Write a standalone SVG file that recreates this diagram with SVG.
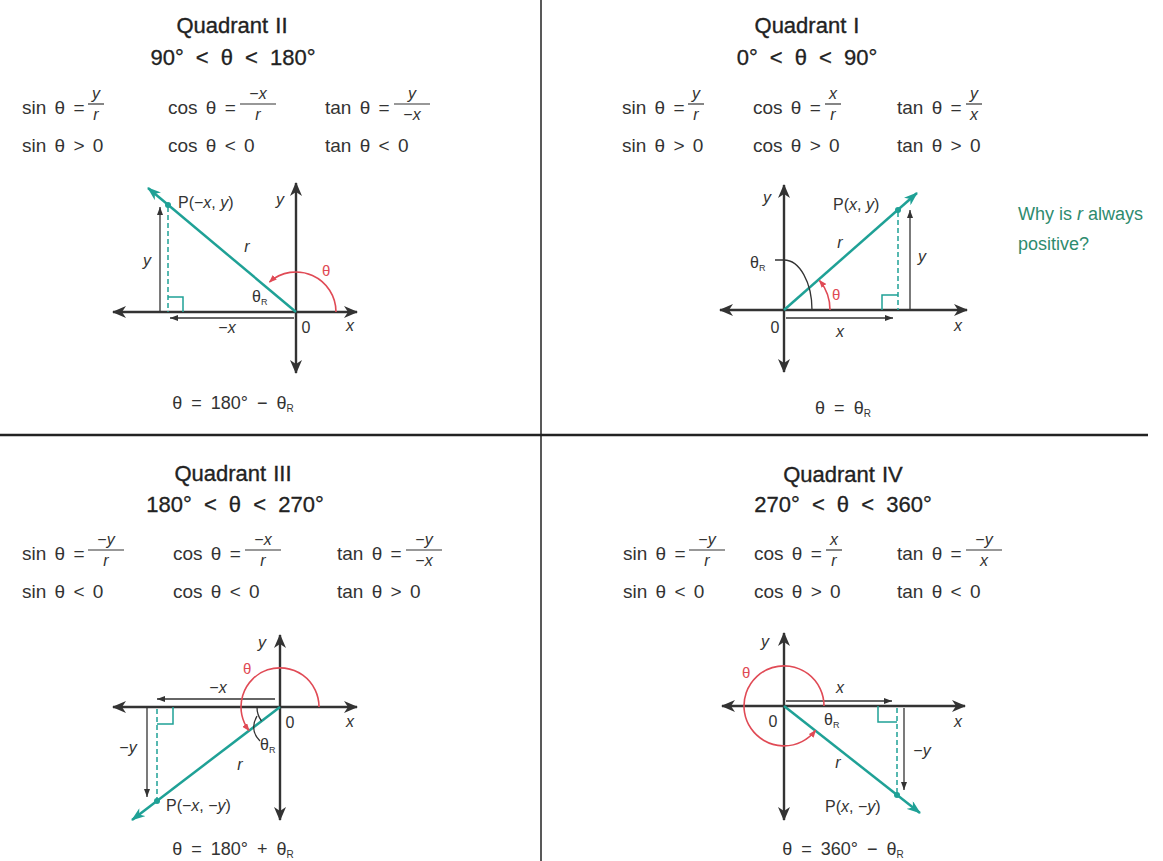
<svg xmlns="http://www.w3.org/2000/svg" width="1163" height="861" viewBox="0 0 1163 861">
<style>
text{font-family:"Liberation Sans",Arial,sans-serif;fill:#333}
.ti{font-size:22px;fill:#222;stroke:#222;stroke-width:0.35;word-spacing:1px}
.sub{font-size:22px;fill:#222;stroke:#222;stroke-width:0.3;word-spacing:6px}
.f{font-size:19px;word-spacing:3px}
.fr{font-size:16px;text-anchor:middle}
.v{font-style:italic}
.lb{font-size:16px}
.eq{font-size:18px;text-anchor:middle;word-spacing:4px}
.gr{font-size:18px;fill:#2e8b6e}
.rt{fill:#e04a55;font-size:15px}
.bar{stroke:#333;stroke-width:1.2}
.ax{stroke:#333;stroke-width:2.4;fill:none;marker-start:url(#ah);marker-end:url(#ah)}
.tl{stroke:#1fa196;stroke-width:2.5;marker-end:url(#ta)}
.dash{stroke:#1fa196;stroke-width:1.5;stroke-dasharray:5 3}
.sq{stroke:#1fa196;stroke-width:1.5;fill:none}
.thin{stroke:#333;stroke-width:1.3;marker-end:url(#sa)}
.red{stroke:#e04a55;stroke-width:1.6;fill:none;marker-end:url(#ra)}
.blk{stroke:#333;stroke-width:1.3;fill:none}
.dot{fill:#1fa196}
.grid{stroke:#222;fill:none}
</style>
<defs>
<marker id="ah" viewBox="0 0 14 12" refX="13" refY="6" markerWidth="14" markerHeight="12" markerUnits="userSpaceOnUse" orient="auto-start-reverse"><path d="M0,0 L14,6 L0,12 L4,6 z" fill="#333"/></marker>
<marker id="sa" viewBox="0 0 8 6" refX="8" refY="3" markerWidth="8" markerHeight="6" markerUnits="userSpaceOnUse" orient="auto"><path d="M0,0 L8,3 L0,6 z" fill="#333"/></marker>
<marker id="ta" viewBox="0 0 14 10" refX="13" refY="5" markerWidth="14" markerHeight="10" markerUnits="userSpaceOnUse" orient="auto"><path d="M0,0 L14,5 L0,10 L4,5 z" fill="#1fa196"/></marker>
<marker id="ra" viewBox="0 0 8 6" refX="7" refY="3" markerWidth="8" markerHeight="6" markerUnits="userSpaceOnUse" orient="auto"><path d="M0,0 L8,3 L0,6 z" fill="#e04a55"/></marker>
</defs>
<rect width="1163" height="861" fill="#fff"/>

<g id="grid-lines">
<line class="grid" x1="541" y1="0" x2="541" y2="861" stroke-width="1.5"/>
<line class="grid" x1="0" y1="435" x2="1148" y2="435" stroke-width="2.5"/>
</g>

<!-- Quadrant II -->
<g id="quadrant-2">
<text class="ti" x="232" y="33" text-anchor="middle">Quadrant II</text>
<text class="sub" x="233" y="65" text-anchor="middle">90° &lt; θ &lt; 180°</text>
<text class="f" x="22" y="114">sin θ =</text>
<line class="bar" x1="88" y1="104" x2="104" y2="104"/>
<text class="fr v" x="96" y="99">y</text><text class="fr v" x="96" y="120">r</text>
<text class="f" x="168" y="114">cos θ =</text>
<line class="bar" x1="240" y1="104" x2="276" y2="104"/>
<text class="fr" x="258" y="99">−<tspan class="v">x</tspan></text><text class="fr v" x="258" y="120">r</text>
<text class="f" x="325" y="114">tan θ =</text>
<line class="bar" x1="394" y1="104" x2="430" y2="104"/>
<text class="fr v" x="412" y="99">y</text><text class="fr" x="412" y="120">−<tspan class="v">x</tspan></text>
<text class="f" x="22" y="152">sin θ &gt; 0</text>
<text class="f" x="168" y="152">cos θ &lt; 0</text>
<text class="f" x="325" y="152">tan θ &lt; 0</text>

<line class="ax" x1="113" y1="312" x2="357" y2="312"/>
<line class="ax" x1="296" y1="373" x2="296" y2="183"/>
<line class="dash" x1="168" y1="207" x2="168" y2="312"/>
<path class="sq" d="M168,297 H183 V312"/>
<line class="thin" x1="160" y1="312" x2="160" y2="207"/>
<line class="thin" x1="294" y1="318" x2="170" y2="318"/>
<line class="tl" x1="296" y1="312" x2="148" y2="188"/>
<circle class="dot" cx="168" cy="205" r="3"/>
<path class="red" d="M336,312 A40,40 0 0 0 269.5,282"/>
<text class="rt" x="322" y="276">θ</text>
<text class="lb v" x="147" y="266" text-anchor="middle">y</text>
<text class="lb" x="227" y="333" text-anchor="middle">−<tspan class="v">x</tspan></text>
<text class="lb" x="306" y="333" text-anchor="middle">0</text>
<text class="lb v" x="350" y="331" text-anchor="middle">x</text>
<text class="lb v" x="247" y="252" text-anchor="middle">r</text>
<text class="lb" x="252" y="302">θ<tspan font-size="9" dy="3">R</tspan></text>
<text class="lb" x="178" y="208">P(−<tspan class="v">x</tspan>, <tspan class="v">y</tspan>)</text>
<text class="lb v" x="280" y="205" text-anchor="middle">y</text>
<text class="eq" x="233" y="409">θ = 180° − θ<tspan font-size="10" dy="3">R</tspan></text>
</g>

<!-- Quadrant I -->
<g id="quadrant-1">
<text class="ti" x="807" y="33" text-anchor="middle">Quadrant I</text>
<text class="sub" x="807" y="65" text-anchor="middle">0° &lt; θ &lt; 90°</text>
<text class="f" x="622" y="114">sin θ =</text>
<line class="bar" x1="688" y1="104" x2="704" y2="104"/>
<text class="fr v" x="696" y="99">y</text><text class="fr v" x="696" y="120">r</text>
<text class="f" x="753" y="114">cos θ =</text>
<line class="bar" x1="825" y1="104" x2="841" y2="104"/>
<text class="fr v" x="833" y="99">x</text><text class="fr v" x="833" y="120">r</text>
<text class="f" x="897" y="114">tan θ =</text>
<line class="bar" x1="966" y1="104" x2="982" y2="104"/>
<text class="fr v" x="974" y="99">y</text><text class="fr v" x="974" y="120">x</text>
<text class="f" x="622" y="152">sin θ &gt; 0</text>
<text class="f" x="753" y="152">cos θ &gt; 0</text>
<text class="f" x="897" y="152">tan θ &gt; 0</text>

<line class="ax" x1="720" y1="310" x2="967" y2="310"/>
<line class="ax" x1="784" y1="372" x2="784" y2="185"/>
<line class="dash" x1="898" y1="212" x2="898" y2="310"/>
<path class="sq" d="M882,310 V295 H898"/>
<line class="thin" x1="910" y1="310" x2="910" y2="210"/>
<line class="thin" x1="786" y1="318" x2="893" y2="318"/>
<line class="tl" x1="784" y1="310" x2="917" y2="193"/>
<circle class="dot" cx="898" cy="210" r="3"/>
<path class="blk" d="M775,260 H784 A28,50 0 0 1 812,310"/>
<path class="red" d="M830,310 A46,46 0 0 0 819.5,280.5"/>
<text class="rt" x="832" y="300">θ</text>
<text class="lb v" x="922" y="262" text-anchor="middle">y</text>
<text class="lb v" x="840" y="337" text-anchor="middle">x</text>
<text class="lb" x="775" y="333" text-anchor="middle">0</text>
<text class="lb v" x="958" y="331" text-anchor="middle">x</text>
<text class="lb v" x="840" y="248" text-anchor="middle">r</text>
<text class="lb" x="750" y="268">θ<tspan font-size="9" dy="3">R</tspan></text>
<text class="lb" x="833" y="210">P(<tspan class="v">x</tspan>, <tspan class="v">y</tspan>)</text>
<text class="lb v" x="767" y="203" text-anchor="middle">y</text>
<text class="eq" x="843" y="414">θ = θ<tspan font-size="10" dy="3">R</tspan></text>
<text class="gr" x="1018" y="220">Why is <tspan font-style="italic">r</tspan> always</text>
<text class="gr" x="1018" y="250">positive?</text>
</g>

<!-- Quadrant III -->
<g id="quadrant-3">
<text class="ti" x="233" y="481" text-anchor="middle">Quadrant III</text>
<text class="sub" x="235" y="512" text-anchor="middle">180° &lt; θ &lt; 270°</text>
<text class="f" x="22" y="560">sin θ =</text>
<line class="bar" x1="88" y1="550" x2="124" y2="550"/>
<text class="fr" x="106" y="545">−<tspan class="v">y</tspan></text><text class="fr v" x="106" y="566">r</text>
<text class="f" x="173" y="560">cos θ =</text>
<line class="bar" x1="245" y1="550" x2="281" y2="550"/>
<text class="fr" x="263" y="545">−<tspan class="v">x</tspan></text><text class="fr v" x="263" y="566">r</text>
<text class="f" x="337" y="560">tan θ =</text>
<line class="bar" x1="406" y1="550" x2="442" y2="550"/>
<text class="fr" x="424" y="545">−<tspan class="v">y</tspan></text><text class="fr" x="424" y="566">−<tspan class="v">x</tspan></text>
<text class="f" x="22" y="598">sin θ &lt; 0</text>
<text class="f" x="173" y="598">cos θ &lt; 0</text>
<text class="f" x="337" y="598">tan θ &gt; 0</text>

<line class="ax" x1="113" y1="707" x2="357" y2="707"/>
<line class="ax" x1="280" y1="820" x2="280" y2="635"/>
<line class="dash" x1="157" y1="709" x2="157" y2="799"/>
<path class="sq" d="M157,724 H173 V707"/>
<line class="thin" x1="147" y1="707" x2="147" y2="797"/>
<line class="thin" x1="275" y1="699" x2="157" y2="699"/>
<line class="tl" x1="280" y1="707" x2="132" y2="820"/>
<circle class="dot" cx="157" cy="801" r="3"/>
<path class="red" d="M319,707 A39,39 0 1 0 249,730.5"/>
<path class="blk" d="M257,707 A23,23 0 0 0 261.5,721"/>
<path class="blk" d="M257,716 Q249,730 260,741"/>
<text class="rt" x="243" y="674">θ</text>
<text class="lb" x="128" y="753" text-anchor="middle">−<tspan class="v">y</tspan></text>
<text class="lb" x="218" y="693" text-anchor="middle">−<tspan class="v">x</tspan></text>
<text class="lb" x="290" y="728" text-anchor="middle">0</text>
<text class="lb v" x="350" y="727" text-anchor="middle">x</text>
<text class="lb v" x="262" y="648" text-anchor="middle">y</text>
<text class="lb v" x="240" y="770" text-anchor="middle">r</text>
<text class="lb" x="260" y="750">θ<tspan font-size="9" dy="3">R</tspan></text>
<text class="lb" x="166" y="811">P(−<tspan class="v">x</tspan>, −<tspan class="v">y</tspan>)</text>
<text class="eq" x="233" y="855">θ = 180° + θ<tspan font-size="10" dy="3">R</tspan></text>
</g>

<!-- Quadrant IV -->
<g id="quadrant-4">
<text class="ti" x="843" y="482" text-anchor="middle">Quadrant IV</text>
<text class="sub" x="843" y="512" text-anchor="middle">270° &lt; θ &lt; 360°</text>
<text class="f" x="623" y="560">sin θ =</text>
<line class="bar" x1="689" y1="550" x2="725" y2="550"/>
<text class="fr" x="707" y="545">−<tspan class="v">y</tspan></text><text class="fr v" x="707" y="566">r</text>
<text class="f" x="754" y="560">cos θ =</text>
<line class="bar" x1="826" y1="550" x2="842" y2="550"/>
<text class="fr v" x="834" y="545">x</text><text class="fr v" x="834" y="566">r</text>
<text class="f" x="897" y="560">tan θ =</text>
<line class="bar" x1="966" y1="550" x2="1002" y2="550"/>
<text class="fr" x="984" y="545">−<tspan class="v">y</tspan></text><text class="fr v" x="984" y="566">x</text>
<text class="f" x="623" y="598">sin θ &lt; 0</text>
<text class="f" x="754" y="598">cos θ &gt; 0</text>
<text class="f" x="897" y="598">tan θ &lt; 0</text>

<line class="ax" x1="722" y1="706" x2="965" y2="706"/>
<line class="ax" x1="784" y1="820" x2="784" y2="633"/>
<line class="dash" x1="897" y1="708" x2="897" y2="793"/>
<path class="sq" d="M878,706 V722 H897"/>
<line class="thin" x1="904" y1="708" x2="904" y2="790"/>
<line class="thin" x1="786" y1="701" x2="892" y2="701"/>
<line class="tl" x1="784" y1="706" x2="920" y2="813"/>
<circle class="dot" cx="897" cy="795" r="3"/>
<path class="red" d="M824,706 A40,40 0 1 0 815.5,730.5"/>
<text class="rt" x="742" y="678">θ</text>
<text class="lb" x="922" y="756" text-anchor="middle">−<tspan class="v">y</tspan></text>
<text class="lb v" x="840" y="693" text-anchor="middle">x</text>
<text class="lb" x="773" y="727" text-anchor="middle">0</text>
<text class="lb v" x="958" y="727" text-anchor="middle">x</text>
<text class="lb v" x="765" y="647" text-anchor="middle">y</text>
<text class="lb v" x="838" y="768" text-anchor="middle">r</text>
<text class="lb" x="824" y="725">θ<tspan font-size="9" dy="3">R</tspan></text>
<text class="lb" x="825" y="812">P(<tspan class="v">x</tspan>, −<tspan class="v">y</tspan>)</text>
<text class="eq" x="843" y="855">θ = 360° − θ<tspan font-size="10" dy="3">R</tspan></text>
</g>
</svg>
